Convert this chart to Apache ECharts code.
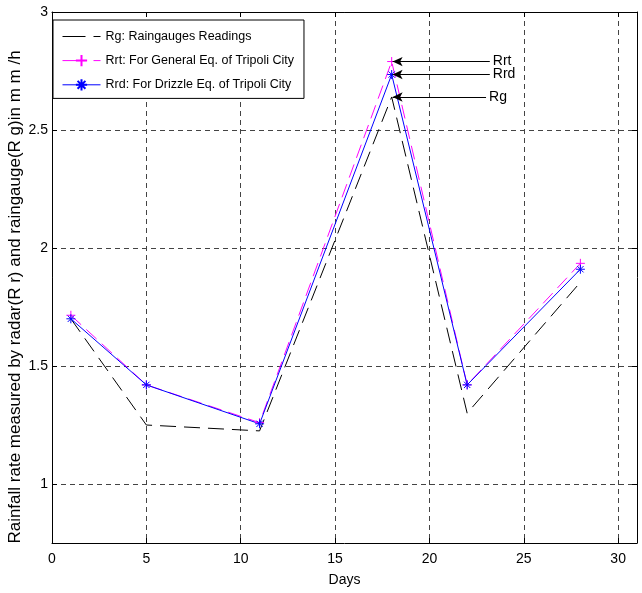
<!DOCTYPE html>
<html>
<head>
<meta charset="utf-8">
<script src="https://cdn.jsdelivr.net/npm/echarts@6/dist/echarts.min.js"></script>
<style>
  html, body { margin: 0; padding: 0; background: #fff; }
  #chart { width: 642px; height: 593px; }
</style>
</head>
<body>
<div id="chart"></div>
<script>
// days of the readings
const days = [1, 5, 11, 18, 22, 28];
// rain rate in mm/h
const rg = [1.70, 1.25, 1.225, 2.64, 1.30, 1.855];
const rrt = [1.715, 1.42, 1.26, 2.79, 1.42, 1.935];
const rrd = [1.70, 1.42, 1.255, 2.735, 1.42, 1.91];
const xTicks = [0, 5, 10, 15, 20, 25, 30];
const yTicks = [1, 1.5, 2, 2.5, 3];

const pairs = arr => days.map((d, i) => [d, arr[i]]);
const font = 'Liberation Sans, Arial, sans-serif';

const plusPath = 'path://M0,5L10,5M5,0L5,10';
const starPath = 'path://M0,5L10,5M5,0L5,10M1.5,1.5L8.5,8.5M8.5,1.5L1.5,8.5';

const gridLine = { show: true, lineStyle: { color: '#444', type: [5, 4], width: 1 } };

const chart = echarts.init(document.getElementById('chart'));
chart.setOption({
    animation: false,
    grid: { left: 52, right: 5, top: 12, bottom: 50 },
    legend: {
        orient: 'vertical',
        left: 53,
        top: 20,
        backgroundColor: '#fff',
        borderColor: '#000',
        borderWidth: 1,
        padding: [10, 10, 7, 9],
        itemWidth: 38,
        itemHeight: 14,
        itemGap: 11,
        textStyle: { fontFamily: font, fontSize: 12.5, color: '#000' },
        data: [
            { name: 'Rg: Raingauges Readings', itemStyle: { opacity: 0 }, lineStyle: { type: [23, 8], width: 1 } },
            { name: 'Rrt: For General Eq. of Tripoli City', lineStyle: { type: [23, 8], width: 1 } },
            { name: 'Rrd: For Drizzle Eq. of Tripoli City', lineStyle: { width: 1 } }
        ]
    },
    graphic: [{
        type: 'text',
        x: 15,
        y: 297,
        rotation: Math.PI / 2,
        style: {
            text: 'Rainfall rate measured by radar(R r) and raingauge(R g)in m m /h',
            font: '17px Liberation Sans, Arial, sans-serif',
            fill: '#000',
            align: 'center',
            verticalAlign: 'middle'
        }
    }],
    xAxis: [{
        type: 'value',
        min: 0,
        max: 31,
        name: 'Days',
        nameLocation: 'middle',
        nameGap: 30,
        nameTextStyle: { fontFamily: font, fontSize: 14, color: '#000' },
        axisLine: { show: true, onZero: false, lineStyle: { color: '#000' } },
        axisTick: { show: true, inside: true, length: 5, customValues: xTicks, lineStyle: { color: '#000' } },
        axisLabel: { customValues: xTicks, fontFamily: font, fontSize: 14, color: '#000', margin: 9 },
        splitLine: gridLine
    }, {
        type: 'value',
        position: 'top',
        min: 0,
        max: 31,
        axisLine: { show: true, onZero: false, lineStyle: { color: '#000' } },
        axisTick: { show: true, inside: true, length: 5, customValues: xTicks, lineStyle: { color: '#000' } },
        axisLabel: { show: false },
        splitLine: { show: false }
    }],
    yAxis: [{
        type: 'value',
        min: 0.75,
        max: 3,
        axisLine: { show: true, onZero: false, lineStyle: { color: '#000' } },
        axisTick: { show: true, inside: true, length: 5, customValues: yTicks, lineStyle: { color: '#000' } },
        axisLabel: { customValues: yTicks, fontFamily: font, fontSize: 14, color: '#000', margin: 4 },
        splitLine: gridLine
    }, {
        type: 'value',
        position: 'right',
        min: 0.75,
        max: 3,
        axisLine: { show: true, onZero: false, lineStyle: { color: '#000' } },
        axisTick: { show: true, inside: true, length: 5, customValues: yTicks, lineStyle: { color: '#000' } },
        axisLabel: { show: false },
        splitLine: { show: false }
    }],
    series: [
        {
            name: 'Rg: Raingauges Readings',
            type: 'line',
            data: pairs(rg),
            showSymbol: false,
            symbol: 'none',
            lineStyle: { color: '#000', width: 1, type: [16, 8] },
            itemStyle: { color: '#000' },
            markLine: {
                silent: true,
                symbol: ['arrow', 'none'],
                symbolSize: [7, 10],
                lineStyle: { color: '#000', width: 1, type: 'solid' },
                label: { show: true, position: 'end', distance: 3, color: '#000', fontFamily: font, fontSize: 14 },
                data: [
                    [{ coord: [18.05, 2.79], label: { formatter: 'Rrt' } }, { coord: [23.2, 2.79] }],
                    [{ coord: [18.05, 2.735], label: { formatter: 'Rrd' } }, { coord: [23.2, 2.735] }],
                    [{ coord: [18.05, 2.64], label: { formatter: 'Rg' } }, { coord: [23.0, 2.64] }]
                ]
            }
        },
        {
            name: 'Rrt: For General Eq. of Tripoli City',
            type: 'line',
            data: pairs(rrt),
            symbol: plusPath,
            symbolSize: 9,
            lineStyle: { color: '#ff00ff', width: 1, type: [14, 7] },
            itemStyle: { color: '#ff00ff', borderColor: '#ff00ff', borderWidth: 1 }
        },
        {
            name: 'Rrd: For Drizzle Eq. of Tripoli City',
            type: 'line',
            data: pairs(rrd),
            symbol: starPath,
            symbolSize: 9,
            lineStyle: { color: '#0000ff', width: 1 },
            itemStyle: { color: '#0000ff', borderColor: '#0000ff', borderWidth: 1 }
        }
    ]
});
</script>
</body>
</html>
